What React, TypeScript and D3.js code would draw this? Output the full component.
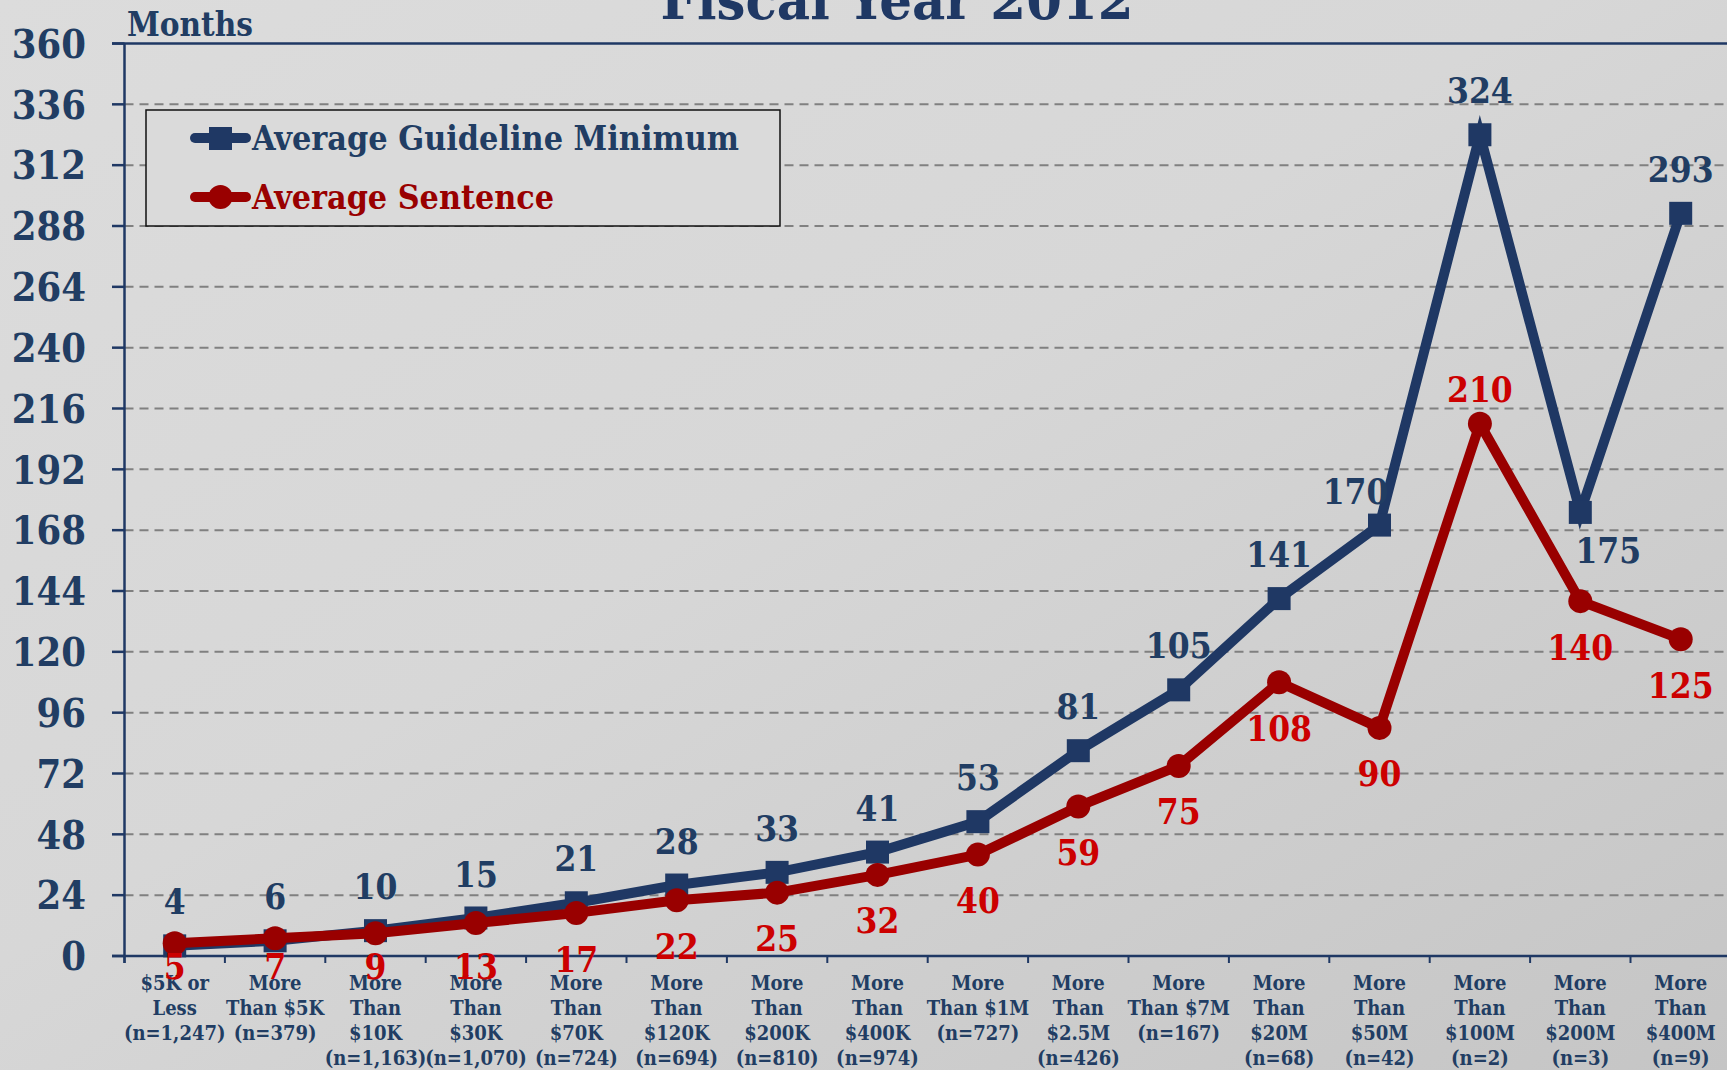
import React, { useEffect } from "react";
import * as d3 from "d3";

const categories: string[][] = [
  ["$5K or", "Less", "(n=1,247)"],
  ["More", "Than $5K", "(n=379)"],
  ["More", "Than", "$10K", "(n=1,163)"],
  ["More", "Than", "$30K", "(n=1,070)"],
  ["More", "Than", "$70K", "(n=724)"],
  ["More", "Than", "$120K", "(n=694)"],
  ["More", "Than", "$200K", "(n=810)"],
  ["More", "Than", "$400K", "(n=974)"],
  ["More", "Than $1M", "(n=727)"],
  ["More", "Than", "$2.5M", "(n=426)"],
  ["More", "Than $7M", "(n=167)"],
  ["More", "Than", "$20M", "(n=68)"],
  ["More", "Than", "$50M", "(n=42)"],
  ["More", "Than", "$100M", "(n=2)"],
  ["More", "Than", "$200M", "(n=3)"],
  ["More", "Than", "$400M", "(n=9)"],
];

const guidelineMin = [4, 6, 10, 15, 21, 28, 33, 41, 53, 81, 105, 141, 170, 324, 175, 293];
const avgSentence = [5, 7, 9, 13, 17, 22, 25, 32, 40, 59, 75, 108, 90, 210, 140, 125];
const yTicks = [0, 24, 48, 72, 96, 120, 144, 168, 192, 216, 240, 264, 288, 312, 336, 360];

const seriesNames = ["Average Guideline Minimum", "Average Sentence"];
const title = "Fiscal Year 2012";
const yAxisTitle = "Months";

const W = 1727;
const H = 1070;
const NAVY = "#1F3864";
const NAVY_TXT = "#213D63";
const RED = "#990000";
const RED_TXT = "#CC0000";
const FONT = "'DejaVu Serif Condensed', 'DejaVu Serif', serif";

export default function App() {
  useEffect(() => {
    document.body.style.margin = "0";
  }, []);

  const keys = categories.map((_, i) => String(i));
  const x = d3.scaleBand<string>().domain(keys).range([124.5, 124.5 + 16 * 100.4]);
  const y = d3.scaleLinear().domain([0, 360]).range([956, 43.5]);
  const cx = (i: number) => (x(String(i)) as number) + x.bandwidth() / 2;

  const line = d3
    .line<number>()
    .x((_, i) => cx(i))
    .y((d) => y(d));

  const txtStyle = { fontFamily: FONT, fontWeight: 700, fontStretch: "condensed" } as React.CSSProperties;

  const blueLabel = (v: number, i: number) => {
    let lx = cx(i);
    let ly = y(v) - 44;
    if (v === 170) {
      lx -= 24;
      ly = y(v) - 34;
    } else if (i === 14) {
      lx += 28;
      ly = y(v) + 38;
    }
    return { lx, ly };
  };
  const redLabel = (v: number, i: number) => {
    const lx = cx(i);
    let ly = Math.min(y(v) + 46, 966);
    if (i === 13) ly = y(v) - 34;
    return { lx, ly };
  };

  return (
    <svg width={W} height={H} style={{ position: "absolute", left: 0, top: 0, display: "block" }}>
      <defs>
        <linearGradient id="bg" x1="0" y1="0" x2="1" y2="1">
          <stop offset="0" stopColor="#dcdcdc" />
          <stop offset="0.45" stopColor="#d7d7d7" />
          <stop offset="1" stopColor="#c5c5c5" />
        </linearGradient>
      </defs>
      <rect x={0} y={0} width={W} height={H} fill="url(#bg)" />

      <text
        x={897}
        y={19}
        textAnchor="middle"
        fontSize={54}
        fill={NAVY}
        style={txtStyle}
        textLength={473}
        lengthAdjust="spacingAndGlyphs"
      >
        {title}
      </text>

      {yTicks.slice(1, -1).map((t) => (
        <line
          key={"g" + t}
          x1={124.5}
          x2={W}
          y1={y(t)}
          y2={y(t)}
          stroke="#808080"
          strokeWidth={2}
          strokeDasharray="9,6"
        />
      ))}
      <line x1={112} x2={W} y1={y(360)} y2={y(360)} stroke={NAVY} strokeWidth={2.5} />

      <line x1={124.5} x2={124.5} y1={y(360)} y2={y(0) + 7} stroke={NAVY} strokeWidth={2.5} />
      {yTicks.map((t) => (
        <g key={"yt" + t}>
          <line x1={112} x2={124.5} y1={y(t)} y2={y(t)} stroke={NAVY} strokeWidth={2.5} />
          <text x={86} y={y(t)} dy="0.36em" textAnchor="end" fontSize={39.5} fill={NAVY_TXT} style={txtStyle}>
            {t}
          </text>
        </g>
      ))}
      <text
        x={127}
        y={36}
        fontSize={33}
        fill={NAVY_TXT}
        style={txtStyle}
        textLength={126}
        lengthAdjust="spacingAndGlyphs"
      >
        {yAxisTitle}
      </text>

      <line x1={112} x2={W} y1={y(0)} y2={y(0)} stroke={NAVY} strokeWidth={2.5} />
      {d3.range(17).map((i) => {
        const xx = 124.5 + i * x.bandwidth();
        return <line key={"xt" + i} x1={xx} x2={xx} y1={y(0)} y2={y(0) + 7} stroke={NAVY} strokeWidth={2} />;
      })}
      {categories.map((lines, i) => (
        <text key={"c" + i} x={cx(i)} textAnchor="middle" fontSize={20} fill={NAVY_TXT} style={txtStyle}>
          {lines.map((l, j) => (
            <tspan key={j} x={cx(i)} y={990 + j * 25}>
              {l}
            </tspan>
          ))}
        </text>
      ))}

      <path d={line(guidelineMin) || ""} fill="none" stroke={NAVY} strokeWidth={10} strokeLinejoin="miter" />
      {guidelineMin.map((v, i) => (
        <rect key={"sq" + i} x={cx(i) - 11.5} y={y(v) - 11.5} width={23} height={23} fill={NAVY} />
      ))}
      <path d={line(avgSentence) || ""} fill="none" stroke={RED} strokeWidth={10} strokeLinejoin="round" />
      {avgSentence.map((v, i) => (
        <circle key={"ci" + i} cx={cx(i)} cy={y(v)} r={12} fill={RED} />
      ))}

      {guidelineMin.map((v, i) => {
        const { lx, ly } = blueLabel(v, i);
        return (
          <text key={"bl" + i} x={lx} y={ly} dy="0.36em" textAnchor="middle" fontSize={35} fill={NAVY_TXT} style={txtStyle}>
            {v}
          </text>
        );
      })}
      {avgSentence.map((v, i) => {
        const { lx, ly } = redLabel(v, i);
        return (
          <text key={"rl" + i} x={lx} y={ly} dy="0.36em" textAnchor="middle" fontSize={35} fill={RED_TXT} style={txtStyle}>
            {v}
          </text>
        );
      })}

      <rect x={146} y={110} width={634} height={116} fill="#dadada" stroke="#111" strokeWidth={1.5} />
      <line x1={195} x2={246} y1={138} y2={138} stroke={NAVY} strokeWidth={10} strokeLinecap="round" />
      <rect x={209} y={127} width={23} height={23} fill={NAVY} />
      <text
        x={252}
        y={150}
        fontSize={34}
        fill={NAVY_TXT}
        style={txtStyle}
        textLength={487}
        lengthAdjust="spacingAndGlyphs"
      >
        {seriesNames[0]}
      </text>
      <line x1={195} x2={246} y1={197} y2={197} stroke={RED} strokeWidth={10} strokeLinecap="round" />
      <circle cx={220.5} cy={197} r={12} fill={RED} />
      <text
        x={252}
        y={209}
        fontSize={34}
        fill={RED}
        style={txtStyle}
        textLength={302}
        lengthAdjust="spacingAndGlyphs"
      >
        {seriesNames[1]}
      </text>
    </svg>
  );
}
